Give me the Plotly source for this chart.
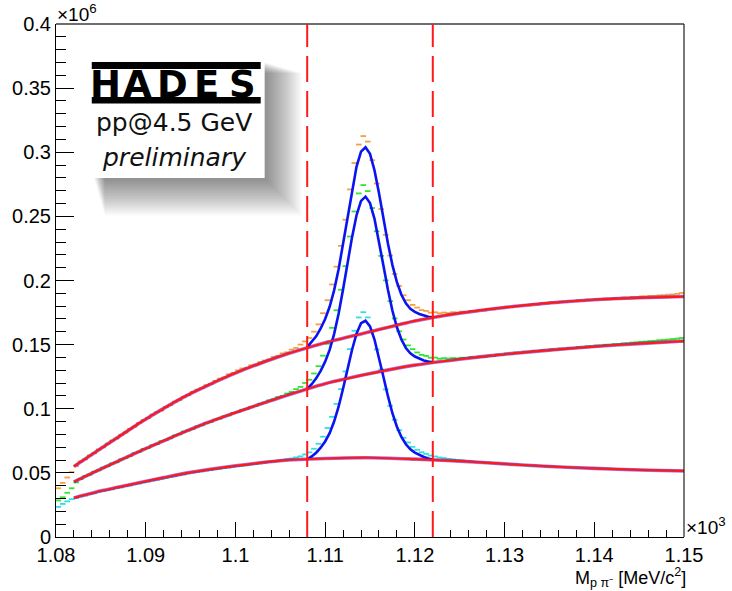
import numpy as np
import plotly.graph_objects as go

# ---------------- data (counts in thousands; axis shows units of 10^6) ----------------
BIN_LO = 1.080      # GeV/c^2 (axis shows x10^3 MeV/c^2)
BIN_W = 0.0005

data_top = [38.0, 42.2, 46.4, 50.6, 55.4, 58.9, 60.5, 63.6, 65.3, 68.3,
            69.9, 72.8, 75.2, 76.8, 79.7, 81.5, 84.4, 86.1, 88.9, 91.2,
            92.7, 95.4, 97.3, 98.6, 101.4, 102.8, 105.5, 106.8, 109.3, 110.6,
            113.2, 114.9, 116.0, 118.4, 119.3, 121.7, 123.5, 124.4, 126.9, 128.0,
            129.9, 131.4, 132.0, 133.9, 134.5, 136.3, 137.6, 138.5, 140.4, 141.3,
            143.2, 144.0, 146.1, 147.4, 150.0, 152.5, 155.2, 160.1, 165.8, 174.5,
            184.6, 196.9, 210.8, 227.0, 247.4, 271.0, 291.6, 306.0, 312.6, 308.3,
            293.8, 275.6, 255.7, 235.6, 219.4, 205.1, 195.8, 188.5, 184.6, 181.0,
            178.9, 176.9, 176.3, 175.0, 175.2, 174.4, 175.0, 174.6, 175.3, 175.0,
            175.7, 175.4, 176.3, 176.0, 176.9, 176.6, 177.8, 177.5, 178.6, 178.4,
            179.5, 179.2, 180.3, 180.0, 180.9, 180.6, 181.7, 181.3, 182.4, 182.1,
            183.0, 182.8, 183.6, 183.5, 184.1, 183.9, 184.6, 184.5, 185.2, 185.0,
            185.6, 185.6, 186.0, 185.9, 186.4, 186.3, 186.8, 186.7, 187.2, 187.1,
            187.6, 187.6, 188.0, 188.0, 188.4, 188.5, 188.9, 189.1, 189.6, 190.3]

data_mid = [28.5, 31.0, 34.5, 38.0, 42.6, 45.2, 47.5, 48.6, 50.9, 52.0,
            54.1, 55.2, 57.4, 58.3, 60.6, 61.7, 63.2, 65.4, 66.4, 68.6,
            69.5, 71.6, 72.5, 74.7, 75.6, 77.0, 79.1, 80.0, 82.2, 83.1,
            84.4, 86.3, 87.1, 88.9, 89.6, 91.5, 92.3, 94.1, 94.8, 96.7,
            97.4, 99.2, 99.8, 101.5, 102.2, 103.9, 104.8, 106.5, 107.3, 109.1,
            110.0, 111.9, 113.1, 115.3, 117.0, 120.1, 122.6, 127.5, 133.2, 141.4,
            150.7, 163.1, 176.8, 192.8, 211.2, 234.3, 253.8, 267.9, 274.4, 269.7,
            256.5, 238.4, 219.2, 200.1, 183.9, 170.4, 160.4, 154.0, 149.4, 146.5,
            143.9, 142.0, 141.2, 139.8, 139.9, 139.0, 139.5, 139.1, 139.5, 139.2,
            139.8, 139.6, 140.3, 140.0, 140.7, 140.4, 141.4, 141.2, 142.3, 142.0,
            143.1, 142.8, 143.8, 143.5, 144.4, 144.2, 145.1, 144.9, 145.7, 145.5,
            146.3, 146.1, 146.9, 146.8, 147.5, 147.4, 148.1, 148.0, 148.7, 148.6,
            149.3, 149.3, 149.9, 149.9, 150.4, 150.5, 151.0, 151.1, 151.6, 151.8,
            152.2, 152.4, 152.8, 153.0, 153.4, 153.6, 154.0, 154.3, 154.7, 155.2]

data_low = [23.5, 25.8, 27.8, 29.5, 30.6, 31.7, 32.4, 33.5, 34.1, 35.2,
            35.8, 36.7, 37.2, 38.1, 38.7, 39.6, 40.2, 41.1, 41.7, 42.6,
            43.2, 44.0, 44.6, 45.4, 46.0, 46.8, 47.4, 48.2, 48.8, 49.6,
            50.1, 50.7, 51.1, 51.7, 52.1, 52.7, 53.1, 53.7, 54.1, 54.7,
            55.1, 55.6, 55.9, 56.5, 56.8, 57.3, 57.8, 58.4, 58.9, 59.6,
            60.2, 60.8, 61.2, 62.1, 62.9, 64.4, 66.0, 68.8, 72.7, 78.2,
            85.0, 93.7, 103.8, 115.3, 129.1, 146.5, 160.8, 171.2, 175.3, 171.2,
            160.4, 146.2, 130.6, 115.1, 102.3, 91.4, 83.3, 77.4, 73.7, 70.3,
            68.0, 66.1, 64.8, 63.5, 62.8, 62.0, 61.5, 60.9, 60.5, 60.0,
            59.8, 59.3, 59.0, 58.5, 58.4, 57.9, 57.9, 57.5, 57.4, 57.0,
            57.0, 56.6, 56.6, 56.2, 56.2, 55.8, 55.8, 55.4, 55.4, 55.0,
            55.0, 54.7, 54.7, 54.4, 54.4, 54.1, 54.1, 53.8, 53.8, 53.5,
            53.5, 53.3, 53.3, 53.0, 53.0, 52.8, 52.8, 52.5, 52.6, 52.4,
            52.4, 52.1, 52.2, 52.0, 52.0, 51.8, 51.9, 51.7, 51.7, 51.6]

# background fit (red), sampled at these masses
bg_mass = [1.082, 1.0845, 1.087, 1.0895, 1.092, 1.0945, 1.097, 1.100, 1.105, 1.110,
           1.115, 1.120, 1.125, 1.130, 1.135, 1.140, 1.145, 1.150]
bg_top = [55.0, 66.7, 78.2, 89.7, 100.3, 110.1, 118.5, 127.8, 141.0, 151.5,
          160.0, 168.5, 174.5, 179.0, 182.5, 185.0, 186.5, 187.5]
bg_mid = [43.0, 51.4, 59.4, 67.4, 75.0, 82.5, 89.5, 97.0, 108.8, 119.5,
          127.4, 134.0, 138.6, 142.5, 145.7, 148.5, 150.8, 152.8]
bg_low = [30.5, 35.1, 38.9, 42.7, 46.3, 49.8, 52.6, 55.5, 59.5, 61.2,
          61.8, 60.7, 59.2, 57.0, 55.0, 53.5, 52.3, 51.5]

# signal + background fit (blue) inside the window
PEAK_LO, PEAK_HI = 1.108, 1.122
fit_top = [148.0, 151.9, 156.5, 162.6, 170.0, 179.5, 192.3, 208.8, 228.7, 250.3,
           271.1, 288.8, 300.5, 303.9, 298.8, 286.0, 268.3, 248.3, 228.9, 212.0,
           198.7, 188.9, 182.2, 178.0, 175.5, 173.9, 172.6, 171.8, 171.3]
fit_mid = [115.5, 119.1, 123.7, 129.6, 136.7, 145.9, 158.2, 174.0, 193.2, 213.9,
           233.8, 250.9, 262.1, 265.4, 260.4, 248.1, 230.9, 211.5, 192.8, 176.4,
           163.5, 154.0, 147.4, 143.2, 140.7, 139.1, 137.7, 136.8, 136.2]
fit_low = [60.6, 62.8, 65.7, 69.6, 74.5, 81.0, 90.0, 101.6, 115.8, 131.3,
           146.0, 158.6, 166.7, 168.6, 164.2, 154.0, 140.2, 124.7, 109.8, 96.5,
           86.0, 78.0, 72.3, 68.4, 65.8, 64.0, 62.4, 61.2, 60.3]

x_tick_vals = [1.08, 1.09, 1.10, 1.11, 1.12, 1.13, 1.14, 1.15]
x_tick_text = ["1.08", "1.09", "1.1", "1.11", "1.12", "1.13", "1.14", "1.15"]
y_tick_vals = [0, 0.05, 0.10, 0.15, 0.20, 0.25, 0.30, 0.35, 0.40]
y_tick_text = ["0", "0.05", "0.1", "0.15", "0.2", "0.25", "0.3", "0.35", "0.4"]

# ---------------- build ----------------
n_bins = len(data_top)
bin_centers = BIN_LO + BIN_W * (np.arange(n_bins) + 0.5)
peak_mass = np.linspace(PEAK_LO, PEAK_HI, len(fit_top))
K = 1000.0  # thousands -> units of 10^6

COL_DATA = ["#f5a040", "#2ee82e", "#30e0e0"]
RED = "#ff1a1a"
BLUE = "#0a14f0"

fig = go.Figure()
for vals, col in zip([data_top, data_mid, data_low], COL_DATA):
    fig.add_trace(go.Scatter(
        x=bin_centers, y=np.array(vals) / K, mode="markers",
        marker=dict(symbol="line-ew", size=4, line=dict(width=1.8, color=col)),
        hoverinfo="skip", showlegend=False))

for bg in [bg_top, bg_mid, bg_low]:
    fig.add_trace(go.Scatter(
        x=bg_mass, y=np.array(bg) / K, mode="lines",
        line=dict(color="rgba(90,10,220,0.55)", width=3.6, shape="spline", smoothing=0.8),
        hoverinfo="skip", showlegend=False))

for ft in [fit_top, fit_mid, fit_low]:
    fig.add_trace(go.Scatter(
        x=peak_mass, y=np.array(ft) / K, mode="lines",
        line=dict(color=BLUE, width=2.6),
        hoverinfo="skip", showlegend=False))

for bg in [bg_top, bg_mid, bg_low]:
    fig.add_trace(go.Scatter(
        x=bg_mass, y=np.array(bg) / K, mode="lines",
        line=dict(color=RED, width=2.2, shape="spline", smoothing=0.8),
        hoverinfo="skip", showlegend=False))

# ---------------- layout helpers ----------------
W, H = 732, 591
L, R, T, B = 52, 684, 24, 537


def fx(px):
    return (px - L) / (R - L)


def fy(py):
    return (B - py) / (B - T)


shapes = []
# soft drop shadow of the logo box (towards lower right)
for i in range(30):
    e = 1.5 * i
    shapes.append(dict(type="rect", xref="paper", yref="paper",
                       x0=fx(88 + 0.3 * e), x1=fx(256 + e), y0=fy(172 + e), y1=fy(60 + 0.3 * e),
                       fillcolor="rgba(0,0,0,0.02)", line=dict(width=0), layer="above"))
# white logo box
shapes.append(dict(type="rect", xref="paper", yref="paper",
                   x0=fx(82), x1=fx(262), y0=fy(178), y1=fy(55),
                   fillcolor="white", line=dict(width=0), layer="above"))
# HADES bars
shapes.append(dict(type="rect", xref="paper", yref="paper",
                   x0=fx(88), x1=fx(258), y0=fy(69), y1=fy(62),
                   fillcolor="black", line=dict(width=0), layer="above"))
shapes.append(dict(type="rect", xref="paper", yref="paper",
                   x0=fx(88), x1=fx(258), y0=fy(103.5), y1=fy(97),
                   fillcolor="black", line=dict(width=0), layer="above"))
# frame top / right
shapes.append(dict(type="line", xref="paper", yref="paper", x0=0, x1=1, y0=1, y1=1,
                   line=dict(color="#6e6e6e", width=2), layer="above"))
shapes.append(dict(type="line", xref="paper", yref="paper", x0=1, x1=1, y0=0, y1=1,
                   line=dict(color="#202020", width=1.2), layer="above"))
# signal window
for xv in [PEAK_LO, PEAK_HI]:
    shapes.append(dict(type="line", xref="x", yref="paper", x0=xv, x1=xv, y0=0, y1=1,
                       line=dict(color=RED, width=2, dash="26px,9px"), layer="above"))

annotations = []
logo_letters = ["H", "A", "D", "E", "S"]
logo_cx = [102, 134, 169, 203, 240]
for ch, cx in zip(logo_letters, logo_cx):
    annotations.append(dict(xref="paper", yref="paper", x=fx(cx), y=fy(84),
                            text=ch, showarrow=False, xanchor="center", yanchor="middle",
                            font=dict(family="DejaVu Sans", size=37, color="black", weight="bold")))
annotations.append(dict(xref="paper", yref="paper", x=fx(171), y=fy(122),
                        text="pp@4.5 GeV", showarrow=False, xanchor="center", yanchor="middle",
                        font=dict(family="DejaVu Sans", size=25, color="#111111")))
annotations.append(dict(xref="paper", yref="paper", x=fx(171), y=fy(157),
                        text="<i>preliminary</i>", showarrow=False, xanchor="center", yanchor="middle",
                        font=dict(family="DejaVu Sans", size=25, color="#111111")))
annotations.append(dict(xref="paper", yref="paper", x=fx(51), y=fy(13),
                        text="×10<sup>6</sup>", showarrow=False, xanchor="left", yanchor="middle",
                        font=dict(family="Liberation Sans", size=19, color="black")))
annotations.append(dict(xref="paper", yref="paper", x=fx(684), y=fy(526),
                        text="×10<sup>3</sup>", showarrow=False, xanchor="left", yanchor="middle",
                        font=dict(family="Liberation Sans", size=19, color="black")))
annotations.append(dict(xref="paper", yref="paper", x=fx(688), y=fy(577),
                        text="M<sub>p π⁻</sub> [MeV/c<sup>2</sup>]", showarrow=False,
                        xanchor="right", yanchor="middle",
                        font=dict(family="Liberation Sans", size=18, color="black")))

fig.update_layout(
    width=W, height=H,
    margin=dict(l=L, r=W - R, t=T, b=H - B, pad=0),
    paper_bgcolor="white", plot_bgcolor="white",
    showlegend=False,
    shapes=shapes, annotations=annotations,
    xaxis=dict(range=[1.08, 1.15], tickmode="array", tickvals=x_tick_vals, ticktext=x_tick_text,
               ticks="inside", ticklen=15, tickwidth=1, tickcolor="black",
               showline=True, linecolor="black", linewidth=1, showgrid=False, zeroline=False,
               tickfont=dict(family="Liberation Sans", size=20, color="black"),
               minor=dict(tickmode="linear", tick0=1.08, dtick=0.002, ticks="inside",
                          ticklen=7, tickwidth=1, tickcolor="black", showgrid=False)),
    yaxis=dict(range=[0, 0.4], tickmode="array", tickvals=y_tick_vals, ticktext=y_tick_text,
               ticks="inside", ticklen=18, tickwidth=1, tickcolor="black",
               showline=True, linecolor="black", linewidth=1, showgrid=False, zeroline=False,
               tickfont=dict(family="Liberation Sans", size=20, color="black"),
               minor=dict(tickmode="linear", tick0=0, dtick=0.01, ticks="inside",
                          ticklen=10, tickwidth=1, tickcolor="black", showgrid=False)),
)

fig.write_html("out.html")
